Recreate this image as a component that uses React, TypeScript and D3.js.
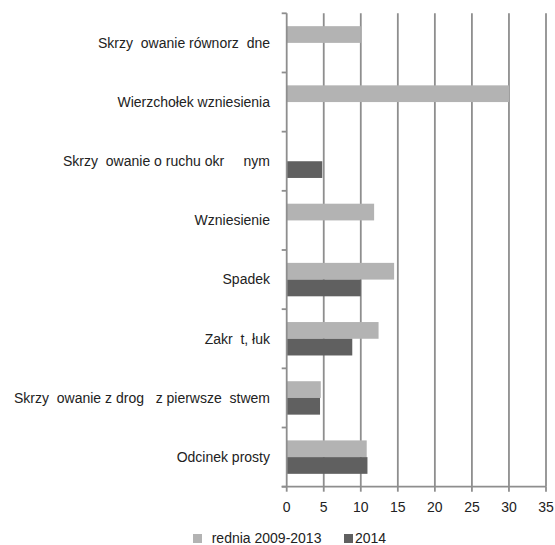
import React from "react";
import * as d3 from "d3";

const categories = [
  "Skrzy  owanie równorz  dne",
  "Wierzchołek wzniesienia",
  "Skrzy  owanie o ruchu okr     nym",
  "Wzniesienie",
  "Spadek",
  "Zakr  t, łuk",
  "Skrzy  owanie z drog   z pierwsze  stwem",
  "Odcinek prosty",
];
const seriesNames = ["rednia 2009-2013", "2014"];
const avgValues = [10, 30, 0, 11.8, 14.5, 12.4, 4.6, 10.8];
const values2014 = [0, 0, 4.8, 0, 10.0, 8.85, 4.5, 10.9];
const xTicks = [0, 5, 10, 15, 20, 25, 30, 35];

const W = 555;
const H = 545;
const left = 286.7;
const right = 546;
const top = 13.3;
const bottom = 486.7;
const colors = ["#b3b3b3", "#606060"];
const gridColor = "#8e8e8e";
const font = "'Liberation Sans', Arial, sans-serif";

export default function App() {
  const x = d3.scaleLinear().domain([0, 35]).range([left, right]);
  const y = d3.scaleBand<string>().domain(categories).range([top, bottom]).paddingInner(0);
  const inner = d3
    .scaleBand<string>()
    .domain(["a", "b"])
    .range([0, y.bandwidth()])
    .paddingInner(0)
    .paddingOuter(0.77);
  const series = [avgValues, values2014];
  const keys = ["a", "b"];
  const boundaries = categories.map((c) => y(c) as number).concat([bottom]);

  return (
    <svg
      width={W}
      height={H}
      style={{ position: "absolute", left: 0, top: 0, background: "#fff" }}
      fontFamily={font}
    >
      {xTicks.slice(1).map((t) => (
        <line key={"g" + t} x1={x(t)} x2={x(t)} y1={top} y2={bottom} stroke={gridColor} strokeWidth={1.8} />
      ))}
      {categories.map((c, i) =>
        series.map((s, k) =>
          s[i] > 0 ? (
            <rect
              key={c + k}
              x={x(0)}
              y={(y(c) as number) + (inner(keys[k]) as number)}
              width={x(s[i]) - x(0)}
              height={inner.bandwidth()}
              fill={colors[k]}
            />
          ) : null
        )
      )}
      <line x1={left} x2={left} y1={top} y2={bottom} stroke={gridColor} strokeWidth={1.8} />
      {boundaries.map((b, i) => (
        <line key={"lt" + i} x1={left - 5} x2={left} y1={b} y2={b} stroke={gridColor} strokeWidth={1.8} />
      ))}
      <line x1={left - 5} x2={right} y1={bottom} y2={bottom} stroke={gridColor} strokeWidth={1.8} />
      {xTicks.map((t) => (
        <line key={"bt" + t} x1={x(t)} x2={x(t)} y1={bottom} y2={bottom + 5} stroke={gridColor} strokeWidth={1.8} />
      ))}
      {xTicks.map((t) => (
        <text key={"bl" + t} x={x(t)} y={511.5} textAnchor="middle" fontSize={14} fill="#222">
          {t}
        </text>
      ))}
      {categories.map((c) => (
        <text
          key={"cl" + c}
          x={270}
          y={(y(c) as number) + y.bandwidth() / 2}
          dy="0.35em"
          textAnchor="end"
          fontSize={14}
          fill="#222"
          style={{ whiteSpace: "pre" }}
        >
          {c}
        </text>
      ))}
      <rect x={193} y={534} width={9} height={9} fill={colors[0]} />
      <text x={211.7} y={543} fontSize={14} fill="#222" style={{ whiteSpace: "pre" }}>
        {seriesNames[0]}
      </text>
      <rect x={344} y={534} width={9} height={9} fill={colors[1]} />
      <text x={355} y={543} fontSize={14} fill="#222">
        {seriesNames[1]}
      </text>
    </svg>
  );
}
